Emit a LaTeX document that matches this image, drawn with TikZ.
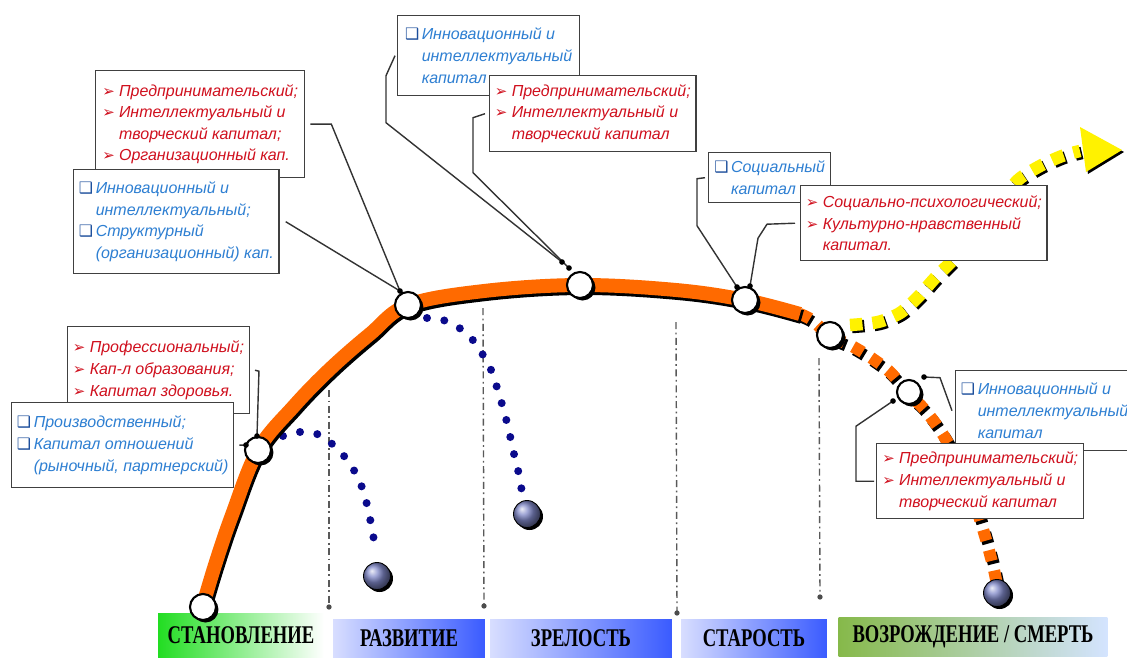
\documentclass[tikz,border=0pt]{standalone}
\usepackage{fontspec}
\setmainfont{Liberation Sans}
\newfontfamily\stagefont{Liberation Serif}
\newfontfamily\symfont{DejaVu Sans}
\usepackage{graphicx}
\usetikzlibrary{arrows.meta,positioning,calc,shadows}
\definecolor{capred}{HTML}{D0101E}
\definecolor{capblue}{HTML}{2E7FD2}
\definecolor{bulblue}{HTML}{1C4E9C}
\definecolor{lifeorange}{HTML}{FF6A00}
\definecolor{dotnavy}{HTML}{0A0A8C}
\definecolor{ballnavy}{HTML}{8088C8}
\definecolor{stagegreen}{HTML}{22DD22}
\definecolor{stageblue}{HTML}{3A5BFF}
\definecolor{stagepale}{HTML}{D8DEFF}
\definecolor{rebirth}{HTML}{86B94A}
\definecolor{rebirthsky}{HTML}{D4E4FF}

\newcommand{\rarr}{\makebox[1.05em][l]{\symfont\upshape\fontsize{8.5}{8}\selectfont\color{capred}➢}}
\newcommand{\bsq}{\makebox[1.05em][l]{\symfont\upshape\fontsize{9}{8}\selectfont\color{bulblue}❑}}
\newcommand{\ind}{\hspace*{1.05em}}
\newcommand{\stagetext}[1]{\scalebox{0.73}[1]{\stagefont\bfseries\fontsize{14.5}{16}\selectfont #1}}

\begin{document}
\begin{tikzpicture}[x=0.02cm,y=-0.02cm,
  capbox/.style={draw=black!75,line width=0.8pt,fill=white,anchor=north west,
    align=left,inner xsep=3pt,inner ysep=2pt,
    font=\itshape\fontsize{9.1}{12.3}\selectfont},
  redbox/.style={capbox,text=capred},
  bluebox/.style={capbox,text=capblue},
  ring/.style={circle,draw=black,fill=white,line width=1.2pt,minimum size=0.52cm,inner sep=0pt,
    drop shadow={shadow xshift=0.05cm,shadow yshift=-0.05cm,fill=black,opacity=1}},
  ball/.style={circle,minimum size=0.54cm,inner sep=0pt,ball color=ballnavy,draw=black,line width=0.5pt,
    drop shadow={shadow xshift=0.05cm,shadow yshift=-0.05cm,fill=black,opacity=1}},
  conn/.style={black!80,line width=0.8pt},
  stageline/.style={black!65,line width=0.8pt,dash pattern=on 4pt off 2pt on 1pt off 2pt},
  stagebox/.style={inner sep=0pt,text=black},
  fall/.style={dotnavy,line width=0.16cm,line cap=round,dash pattern=on 0pt off 0.35cm}
]
\useasboundingbox (0,0) rectangle (1127,657);

\node[stagebox,left color=stagegreen,right color=white,minimum width=3.32cm,minimum height=0.88cm] (s1) at (241,635) {\stagetext{СТАНОВЛЕНИЕ}};
\node[stagebox,left color=stagepale,right color=stageblue,minimum width=3.04cm,minimum height=0.76cm] (s2) at (409,638) {\stagetext{РАЗВИТИЕ}};
\node[stagebox,left color=stagepale,right color=stageblue,minimum width=3.64cm,minimum height=0.76cm] (s3) at (581,638) {\stagetext{ЗРЕЛОСТЬ}};
\node[stagebox,left color=stagepale,right color=stageblue,minimum width=2.92cm,minimum height=0.76cm] (s4) at (754,638) {\stagetext{СТАРОСТЬ}};
\node[stagebox,left color=rebirth,right color=rebirthsky,minimum width=5.38cm,minimum height=0.78cm] (s5) at (973,637) {\stagetext{ВОЗРОЖДЕНИЕ / СМЕРТЬ}};

\draw[stageline] (329,390) -- (329,605);
\draw[stageline] (483,308) -- (484,604);
\draw[stageline] (676,322) -- (677,611);
\draw[stageline] (819,358) -- (820,595);
\foreach \x/\y in {329/607,484/606,677/613,820/597}
  \fill[black!70] (\x,\y) circle (1.5pt);

\draw[fall] plot[smooth] coordinates {(283,436) (300,432) (317,434) (331,443) (344,456) (355,472) (363,490) (368,509) (372,529) (376,552)};
\draw[fall] plot[smooth] coordinates {(427,318) (443,320) (458,327) (472,339) (483,355) (492,372) (498,391) (504,411) (509,431) (513,450) (518,470) (522,492)};
\node[ball] (fall1) at (377,576) {};
\node[ball] (fall2) at (527,514) {};

\draw[black,line width=0.25cm,dash pattern=on 0.25cm off 0.2cm,shift={(2,2)}] plot[smooth] coordinates {(850,325) (878,322) (900,313) (918,297) (935,278) (955,258) (978,232) (1000,203) (1018,180) (1040,166) (1062,156) (1080,151)};
\draw[yellow,line width=0.25cm,dash pattern=on 0.25cm off 0.2cm] plot[smooth] coordinates {(850,325) (878,322) (900,313) (918,297) (935,278) (955,258) (978,232) (1000,203) (1018,180) (1040,166) (1062,156) (1080,151)};
\fill[black,shift={(2,2)}] (1080,127) -- (1122,150) -- (1086,172) -- cycle;
\fill[yellow] (1080,127) -- (1122,150) -- (1086,172) -- cycle;

\draw[black,line width=0.24cm,dash pattern=on 0.22cm off 0.2cm,shift={(2,3)}] plot[smooth] coordinates {(800,314) (812,320) (830,336) (850,345) (870,357) (890,372) (907,392) (925,410) (942,433) (956,458) (968,485) (978,513) (987,543) (994,570) (997,585)};
\draw[lifeorange,line width=0.24cm,dash pattern=on 0.22cm off 0.2cm] plot[smooth] coordinates {(800,314) (812,320) (830,336) (850,345) (870,357) (890,372) (907,392) (925,410) (942,433) (956,458) (968,485) (978,513) (987,543) (994,570) (997,585)};
\node[ball] (fall3) at (997,593) {};

\draw[black,line width=0.28cm,shift={(2,3)}] plot[smooth,tension=0.6] coordinates {(201,612) (215,565) (232,515) (258,450) (294,406) (330,369) (370,334) (408,305) (484,291) (580,285) (676,290) (745,300) (800,314)};
\draw[lifeorange,line width=0.28cm] plot[smooth,tension=0.6] coordinates {(201,612) (215,565) (232,515) (258,450) (294,406) (330,369) (370,334) (408,305) (484,291) (580,285) (676,290) (745,300) (800,314)};

\node[ring] (c1) at (203,607) {};
\node[ring] (c2) at (258,450) {};
\node[ring] (c3) at (408,305) {};
\node[ring] (c4) at (580,285) {};
\node[ring] (c5) at (745,300) {};
\node[ring] (c6) at (830,335) {};
\node[ring,minimum size=0.48cm] (c7) at (909,392) {};

\node[redbox,minimum width=4.18cm,minimum height=2.14cm] (r1) at (95,70) {\rarr Предпринимательский;\\\rarr Интеллектуальный и\\\ind творческий капитал;\\\rarr Организационный кап.};
\node[bluebox,minimum width=4.08cm,minimum height=2.08cm] (b1) at (73,169) {\bsq Инновационный и\\\ind интеллектуальный;\\\bsq Структурный\\\ind (организационный) кап.};
\node[redbox,minimum width=3.6cm,minimum height=1.74cm] (r2) at (67,326) {\rarr Профессиональный;\\\rarr Кап-л образования;\\\rarr Капитал здоровья.};
\node[bluebox,minimum width=4.4cm,minimum height=1.7cm] (b2) at (11,402) {\bsq Производственный;\\\bsq Капитал отношений\\\ind (рыночный, партнерский)};
\node[bluebox,minimum width=3.64cm,minimum height=1.6cm] (b3) at (397,15) {\bsq Инновационный и\\\ind интеллектуальный\\\ind капитал};
\node[redbox,minimum width=4.12cm,minimum height=1.52cm] (r3) at (489,75) {\rarr Предпринимательский;\\\rarr Интеллектуальный и\\\ind творческий капитал};
\node[bluebox,minimum width=2.44cm,minimum height=1.0cm] (b4) at (708,152) {\bsq Социальный\\\ind капитал};
\node[redbox,minimum width=4.88cm,minimum height=1.5cm] (r4) at (800,185) {\rarr Социально-психологический;\\\rarr Культурно-нравственный\\\ind капитал.};
\node[bluebox,minimum width=3.44cm,minimum height=1.6cm] (b5) at (955,370) {\bsq Инновационный и\\\ind интеллектуальный\\\ind капитал};
\node[redbox,minimum width=4.14cm,minimum height=1.5cm] (r5) at (876,443) {\rarr Предпринимательский;\\\rarr Интеллектуальный и\\\ind творческий капитал};

\coordinate (c2a) at (257,436);
\coordinate (c2b) at (246,445);
\coordinate (c3a) at (400,291);
\coordinate (c4a) at (562,262);
\coordinate (c4b) at (569,268);
\coordinate (c5a) at (737,287);
\coordinate (c5b) at (750,286);
\coordinate (c7a) at (924,377);
\coordinate (c7b) at (893,401);

\draw[conn] ([xshift=0.1cm]r1.east) -- ++(21,0) -- (c3a);
\draw[conn] ([xshift=0.12cm]b1.east) -- (c3a);
\draw[conn] ([xshift=0.1cm]r2.east) -- ++(4,1) -- (c2a);
\draw[conn] ([xshift=0.1cm]b2.east) -- (c2b);
\draw[conn] ([xshift=-0.04cm]b3.west) -- ++(-9,20) -- ++(0,47) -- (c4a);
\draw[conn] ([xshift=-0.08cm]r3.west) -- ++(-12,4) -- ++(0,55) -- (c4b);
\draw[conn] ([xshift=-0.06cm]b4.west) -- ++(-8,1) -- ++(0,47) -- (c5a);
\draw[conn] ([xshift=-0.1cm]r4.west) -- ++(-28,1) -- ++(-9,14) -- (c5b);
\draw[conn] ([xshift=-0.06cm]b5.west) -- ++(-12,-33) -- (c7a);
\draw[conn] ([xshift=-0.04cm]r5.west) -- ++(-18,0) -- ++(0,-55) -- (c7b);
\foreach \d in {c2a,c2b,c3a,c4a,c4b,c5a,c5b,c7a,c7b}
  \fill (\d) circle (1.6pt);
\end{tikzpicture}
\end{document}
